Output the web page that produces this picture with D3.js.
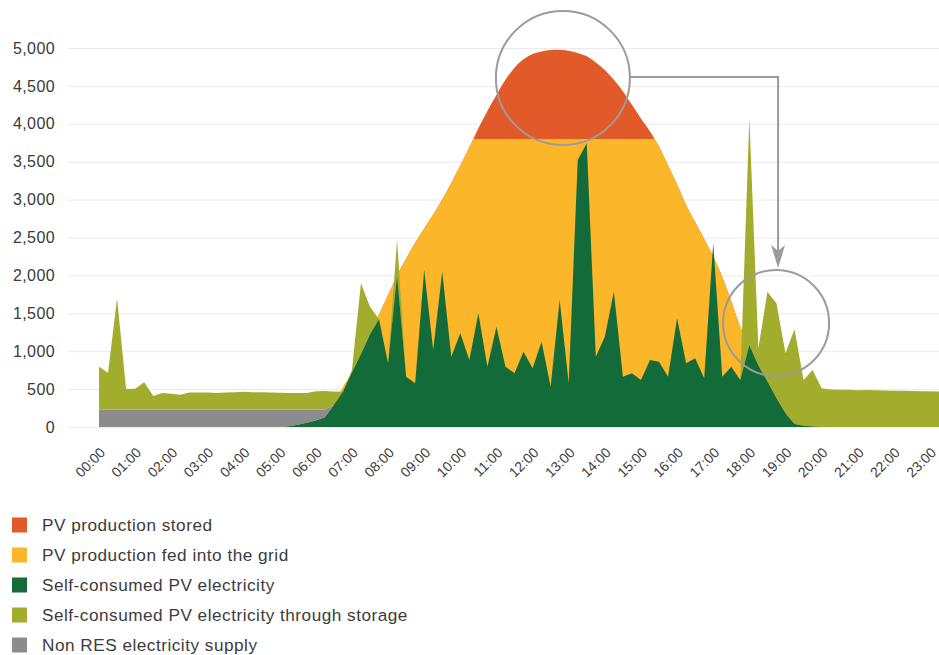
<!DOCTYPE html>
<html>
<head>
<meta charset="utf-8">
<script src="https://cdn.jsdelivr.net/npm/d3@7/dist/d3.min.js"></script>
<style>
  html, body { margin: 0; padding: 0; background: #ffffff; }
  svg { display: block; }
  text { font-family: "Liberation Sans", Arial, Helvetica, sans-serif; }
</style>
</head>
<body>
<svg id="chart" width="939" height="655"></svg>
<script>
// ---------- DATA (15-minute samples, starting 00:00) ----------
const hourLabels = ["00:00","01:00","02:00","03:00","04:00","05:00","06:00","07:00","08:00","09:00","10:00","11:00",
                    "12:00","13:00","14:00","15:00","16:00","17:00","18:00","19:00","20:00","21:00","22:00","23:00"];
const yTicks = [0, 500, 1000, 1500, 2000, 2500, 3000, 3500, 4000, 4500, 5000];
const storageThreshold = 3800;

// Self-consumed PV electricity
const selfConsumed = [
  0,0,0,0, 0,0,0,0, 0,0,0,0, 0,0,0,0, 0,0,0,0,          // 00:00 - 04:45
  0,10,30,55, 85,130,290,466,                           // 05:00 - 06:45
  720,960,1220,1420, 840,2000,664,576,                  // 07:00 - 08:45
  2071,1016,2049,928, 1236,884,1500,796,                // 09:00 - 10:45
  1323,796,708,993, 774,1125,532,1675,                  // 11:00 - 12:45
  576,3522,3742,928, 1191,1785,664,708,                 // 13:00 - 14:45
  620,884,862,664, 1434,840,906,642,                    // 15:00 - 16:45
  2423,664,796,620, 1080,810,600,380,                   // 17:00 - 18:45
  180,40,15,5, 0,0,0,0,                                 // 19:00 - 20:45
  0,0,0,0, 0,0,0,0, 0,0                                 // 21:00 - 23:15
];
// Non RES electricity supply
const nonRes = [
  230,230,230,230, 230,230,230,230, 230,230,230,230, 230,230,230,230, 230,230,230,230,
  230,220,200,175, 145,100,0,0,
  0,0,0,0, 0,0,0,0,
  0,0,0,0, 0,0,0,0,
  0,0,0,0, 0,0,0,0,
  0,0,0,0, 0,0,0,0,
  0,0,0,0, 0,0,0,0,
  0,0,0,0, 0,0,0,0,
  0,0,0,0, 0,0,0,0,
  0,0,0,0, 0,0,0,0, 0,0
];
// Self-consumed PV electricity through storage
const fromStorage = [
  565,486,1468,270, 275,360,180,220, 210,195,225,225, 225,220,225,230, 235,230,228,225,
  222,220,220,218, 240,245,178,0,
  30,935,367,0, 0,470,0,0,
  0,0,0,0, 0,0,0,0,
  0,0,0,0, 0,0,0,0,
  0,0,0,0, 0,0,0,0,
  0,0,0,0, 0,0,0,0,
  0,0,0,0, 2992,228,1185,1252,
  792,1250,605,747, 510,495,490,490,
  485,488,485,480, 478,478,475,472, 470,468
];
// Total PV production
const pvProduction = [
  0,0,0,0, 0,0,0,0, 0,0,0,0, 0,0,0,0, 0,0,0,0,
  0,10,30,55, 85,130,290,520,
  720,960,1220,1480, 1740,2000,2220,2430,
  2620,2800,3000,3220, 3450,3690,3940,4170,
  4380,4580,4740,4850, 4920,4955,4972,4978,
  4965,4935,4890,4810, 4710,4580,4430,4250,
  4070,3900,3700,3450, 3200,2930,2700,2480,
  2250,1980,1660,1320, 1080,810,600,380,
  180,40,15,5, 0,0,0,0,
  0,0,0,0, 0,0,0,0, 0,0
];

const legendLabels = ["PV production stored", "PV production fed into the grid", "Self-consumed PV electricity",
                      "Self-consumed PV electricity through storage", "Non RES electricity supply"];
const C_STORED = "#e2592a", C_GRID = "#fbb62a", C_SELF = "#136b3a", C_STORAGE = "#a2ad2e", C_NONRES = "#8c8b8d";
const legendColors = [C_STORED, C_GRID, C_SELF, C_STORAGE, C_NONRES];

// annotation anchors (in data units: hours, value)
const highlightA = { t: 12.84, v: 4604, r: 67 };
const highlightB = { t: 18.74, v: 1372, r: 53 };

// ---------- CHART ----------
const W = 939, H = 655;
const svg = d3.select("#chart");

const x = d3.scaleLinear().domain([0, 23]).range([99, 930]);
const y = d3.scaleLinear().domain([0, 5000]).range([427, 48]);

const rows = selfConsumed.map((d, i) => ({
  t: i / 4,
  self: selfConsumed[i],
  nonres: nonRes[i],
  storage: fromStorage[i],
  pv: pvProduction[i]
}));

// grid lines
svg.append("g").selectAll("line").data(yTicks).join("line")
  .attr("x1", 68).attr("x2", W)
  .attr("y1", d => y(d) + 0.5).attr("y2", d => y(d) + 0.5)
  .attr("stroke", "#eaeaea").attr("stroke-width", 1);

// clip for the plot
const defs = svg.append("defs");
defs.append("clipPath").attr("id", "plotClip")
  .append("rect").attr("x", 0).attr("y", 0).attr("width", W).attr("height", y(0));
defs.append("clipPath").attr("id", "belowThreshold")
  .append("rect").attr("x", 0).attr("y", y(storageThreshold)).attr("width", W).attr("height", y(0) - y(storageThreshold));

const plot = svg.append("g").attr("clip-path", "url(#plotClip)");

const pvArea = d3.area()
  .x(d => x(d.t)).y0(y(0)).y1(d => y(d.pv))
  .curve(d3.curveMonotoneX);

// PV production stored (above threshold)
plot.append("path").datum(rows).attr("d", pvArea).attr("fill", C_STORED);
// PV production fed into the grid (below threshold)
plot.append("g").attr("clip-path", "url(#belowThreshold)")
  .append("path").datum(rows).attr("d", pvArea).attr("fill", C_GRID);

// consumption stack: self-consumed, non RES, from storage
const stack = d3.stack().keys(["self", "nonres", "storage"]);
const layers = stack(rows);
const layerColors = { self: C_SELF, nonres: C_NONRES, storage: C_STORAGE };
const stackArea = d3.area()
  .x(d => x(d.data.t)).y0(d => y(d[0])).y1(d => y(d[1]))
  .curve(d3.curveLinear);

const order = ["storage", "self", "nonres"];
order.forEach(k => {
  const layer = layers.find(l => l.key === k);
  plot.append("path").datum(layer).attr("d", stackArea).attr("fill", layerColors[k]);
});

// Y axis
const yAxis = d3.axisLeft(y).tickValues(yTicks).tickFormat(d3.format(",")).tickSize(0).tickPadding(3);
const gy = svg.append("g").attr("transform", "translate(58,0)").call(yAxis);
gy.select(".domain").remove();
gy.selectAll("text").attr("font-size", 16).attr("fill", "#3a3a3a")
  .attr("letter-spacing", 0.4)
  .attr("font-family", "'Liberation Sans', Arial, sans-serif");

// X axis
const xAxis = d3.axisBottom(x).tickValues(d3.range(hourLabels.length)).tickFormat(i => hourLabels[i]).tickSize(0);
const gx = svg.append("g").attr("transform", `translate(0,${y(0)})`).call(xAxis);
gx.select(".domain").remove();
gx.selectAll("text")
  .attr("x", 0).attr("y", 0).attr("dy", "0.35em")
  .attr("text-anchor", "end")
  .attr("transform", "translate(3,23) rotate(-45)")
  .attr("font-size", 14).attr("fill", "#3a3a3a")
  .attr("font-family", "'Liberation Sans', Arial, sans-serif");

// annotations
const ann = svg.append("g").attr("fill", "none").attr("stroke", "#9b9b9b").attr("stroke-width", 2);
const ax = x(highlightA.t), ay = y(highlightA.v);
const bx = x(highlightB.t), by = y(highlightB.v);
ann.append("circle").attr("cx", ax).attr("cy", ay).attr("r", highlightA.r);
ann.append("circle").attr("cx", bx).attr("cy", by).attr("r", highlightB.r);
const tipY = by - highlightB.r - 2;
ann.append("path").attr("d", `M${ax + highlightA.r},${ay - 1} H${bx + 2} V${tipY - 16}`);
svg.append("path")
  .attr("d", `M${bx + 2},${tipY} L${bx - 5},${tipY - 23} L${bx + 2},${tipY - 17} L${bx + 9},${tipY - 23} Z`)
  .attr("fill", "#9b9b9b");

// legend
const lg = svg.append("g").attr("transform", "translate(12,525)");
const item = lg.selectAll("g").data(legendLabels).join("g")
  .attr("transform", (d, i) => `translate(0,${i * 30})`);
item.append("rect").attr("x", 0).attr("y", -7.5).attr("width", 15).attr("height", 15)
  .attr("fill", (d, i) => legendColors[i]);
item.append("text").attr("x", 30).attr("y", 0).attr("dy", "0.35em")
  .attr("font-size", 17.2).attr("letter-spacing", 0.5).attr("fill", "#3c3c3c")
  .text(d => d);
</script>
</body>
</html>
